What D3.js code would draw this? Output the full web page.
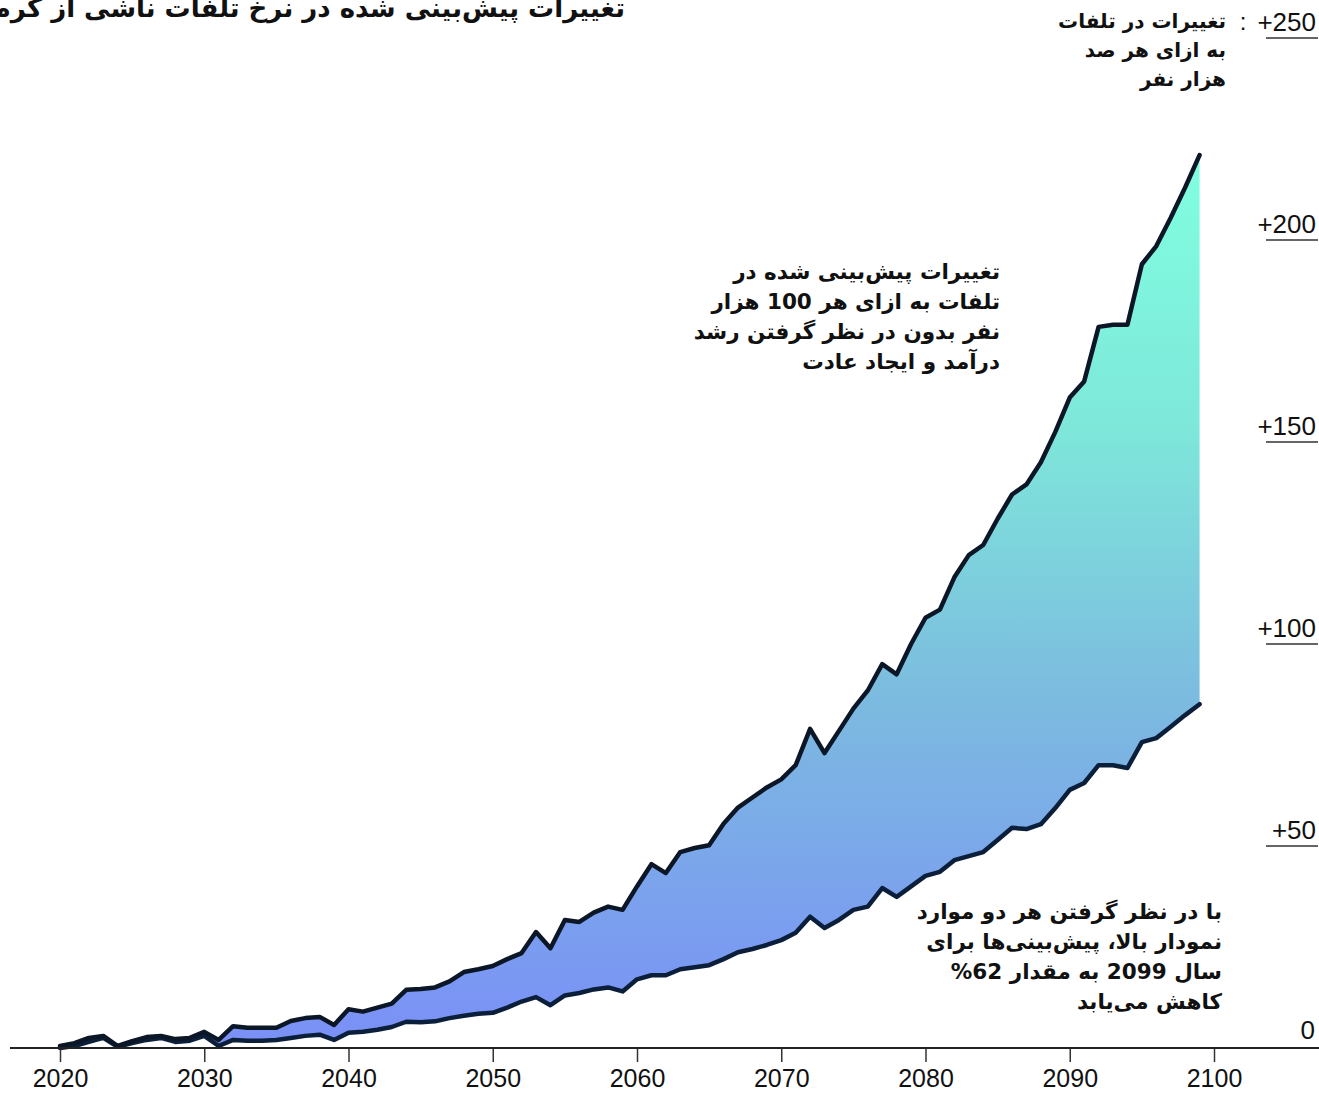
<!DOCTYPE html>
<html>
<head>
<meta charset="utf-8">
<script src="https://cdn.jsdelivr.net/npm/d3@7"></script>
<style>
  body { margin: 0; background: #fff; }
  svg { display: block; }
  text { font-family: "Liberation Sans", Arial, "DejaVu Sans", sans-serif; fill: #111; }
  .fa { font-family: "DejaVu Sans", "Liberation Sans", sans-serif; font-weight: bold; }
</style>
</head>
<body>
<svg id="chart" width="1319" height="1094"></svg>
<script>
// data (deaths per 100k, change vs today)
var years = d3.range(2020, 2100);
var withoutAdaptation = [0.5, 1.2, 2.5, 3, 0.5, 1.7, 2.7, 3, 2.2, 2.5,
  4, 2, 5.4, 5, 5, 5, 6.7, 7.4, 7.7, 5.7,
  9.6, 9, 10, 11, 14.4, 14.6, 15, 16.5, 18.8, 19.5,
  20.3, 22, 23.5, 28.7, 24.7, 31.7, 31.2, 33.5, 35, 34.2,
  40, 45.5, 43.3, 48.5, 49.5, 50.2, 55.5, 59.5, 62, 64.5,
  66.5, 70, 79, 73, 78.5, 84, 88.5, 95, 92.5, 100,
  106.5, 108.5, 116.5, 122, 124.5, 131, 137, 139.5, 145, 152.5,
  161, 165, 178.5, 179, 179, 194, 198.5, 205.5, 213, 221];
var withAdaptation = [0, 0.5, 1.5, 2.5, 0.3, 1.2, 2, 2.5, 1.5, 1.8,
  3, 0.5, 2, 1.8, 1.8, 2, 2.5, 3, 3.3, 2,
  3.8, 4, 4.5, 5.2, 6.5, 6.4, 6.6, 7.4, 8, 8.5,
  8.7, 10, 11.5, 12.6, 10.6, 13, 13.6, 14.5, 15, 14,
  17, 18, 18, 19.5, 20, 20.5, 22, 23.7, 24.5, 25.5,
  26.7, 28.5, 32.5, 29.7, 31.7, 34.2, 35, 39.6, 37.4, 40,
  42.6, 43.6, 46.5, 47.5, 48.5, 51.5, 54.5, 54.2, 55.4, 59.4,
  63.9, 65.6, 70, 70, 69.3, 75.7, 76.7, 79.5, 82.4, 85.1];
var xTicks = [2020, 2030, 2040, 2050, 2060, 2070, 2080, 2090, 2100];
var yTicks = [50, 100, 150, 200, 250];

var title = "تغییرات پیش‌بینی شده در نرخ تلفات ناشی از گرما";
var unitLines = ["تغییرات در تلفات", "به ازای هر صد", "هزار نفر"];
var noteTop = ["تغییرات پیش‌بینی شده در", "تلفات به ازای هر 100 هزار", "نفر بدون در نظر گرفتن رشد", "درآمد و ایجاد عادت"];
var noteBottom = ["با در نظر گرفتن هر دو موارد", "نمودار بالا، پیش‌بینی‌ها برای", "سال 2099 به مقدار 62%", "کاهش می‌یابد"];

var svg = d3.select("#chart");

var x = d3.scaleLinear().domain([2020, 2100]).range([60, 1214]),
  y = d3.scaleLinear().domain([0, 250]).range([1048, 38]);

var rows = years.map(function (yr, i) {
  return { year: yr, hi: withoutAdaptation[i], lo: withAdaptation[i] };
});

// vertical gradient: aqua at the top, periwinkle near zero
var grad = svg.append("defs").append("linearGradient")
  .attr("id", "band").attr("gradientUnits", "userSpaceOnUse")
  .attr("x1", 0).attr("x2", 0).attr("y1", y(221)).attr("y2", y(0));
grad.append("stop").attr("offset", "0%").attr("stop-color", "#80ffe0");
grad.append("stop").attr("offset", "30%").attr("stop-color", "#7ee8da");
grad.append("stop").attr("offset", "60%").attr("stop-color", "#7cbcdf");
grad.append("stop").attr("offset", "100%").attr("stop-color", "#7a8ff7");

var area = d3.area()
  .x(function (d) { return x(d.year); })
  .y0(function (d) { return y(d.lo); })
  .y1(function (d) { return y(d.hi); });

svg.append("path").datum(rows).attr("d", area).attr("fill", "url(#band)");

var lineHi = d3.line().x(function (d) { return x(d.year); }).y(function (d) { return y(d.hi); });
var lineLo = d3.line().x(function (d) { return x(d.year); }).y(function (d) { return y(d.lo); });

svg.append("path").datum(rows).attr("d", lineLo)
  .attr("fill", "none").attr("stroke", "#0b1f3a").attr("stroke-width", 4.5)
  .attr("stroke-linejoin", "round").attr("stroke-linecap", "round");
svg.append("path").datum(rows).attr("d", lineHi)
  .attr("fill", "none").attr("stroke", "#0b1626").attr("stroke-width", 4.5)
  .attr("stroke-linejoin", "round").attr("stroke-linecap", "round");

// x axis
var xAxis = svg.append("g").attr("transform", "translate(0," + y(0) + ")")
  .call(d3.axisBottom(x).tickValues(xTicks).tickFormat(d3.format("d")).tickSize(14).tickPadding(7));
xAxis.select(".domain").remove();
xAxis.selectAll(".tick line").attr("stroke", "#333").attr("stroke-width", 1.5);
xAxis.selectAll(".tick text").style("font-size", "25px").attr("fill", "#111");
svg.append("line").attr("x1", 10).attr("x2", 1319).attr("y1", y(0)).attr("y2", y(0))
  .attr("stroke", "#222").attr("stroke-width", 2);

// y labels on the right, underlined
var yg = svg.append("g").selectAll("g").data(yTicks).enter().append("g");
yg.append("line").attr("x1", 1266).attr("x2", 1318)
  .attr("y1", function (d) { return y(d); }).attr("y2", function (d) { return y(d); })
  .attr("stroke", "#333").attr("stroke-width", 1.5);
yg.append("text").attr("x", 1316).attr("y", function (d) { return y(d) - 7; })
  .attr("text-anchor", "end").style("font-size", "26px")
  .text(function (d) { return "+" + d; });
svg.append("text").attr("x", 1315).attr("y", y(0) - 9).attr("text-anchor", "end")
  .style("font-size", "26px").text("0");

// title, runs off the left edge like the original
svg.append("text").attr("class", "fa").attr("x", 625).attr("y", 17)
  .attr("direction", "rtl").attr("text-anchor", "start").style("font-size", "26px").text(title);

// unit label next to +250
svg.append("text").attr("x", 1243).attr("y", 30).attr("text-anchor", "middle")
  .style("font-size", "24px").text(":");
svg.append("g").selectAll("text").data(unitLines).enter().append("text")
  .attr("class", "fa").attr("x", 1226).attr("y", function (d, i) { return 28 + i * 29; })
  .attr("direction", "rtl").attr("text-anchor", "start").style("font-size", "20px")
  .text(function (d) { return d; });

function note(lines, rx, y0) {
  svg.append("g").selectAll("text").data(lines).enter().append("text")
    .attr("class", "fa").attr("x", rx).attr("y", function (d, i) { return y0 + i * 30; })
    .attr("direction", "rtl").attr("text-anchor", "start").style("font-size", "21.5px")
    .text(function (d) { return d; });
}
note(noteTop, 1000, 279);
note(noteBottom, 1222, 919);
</script>
</body>
</html>
